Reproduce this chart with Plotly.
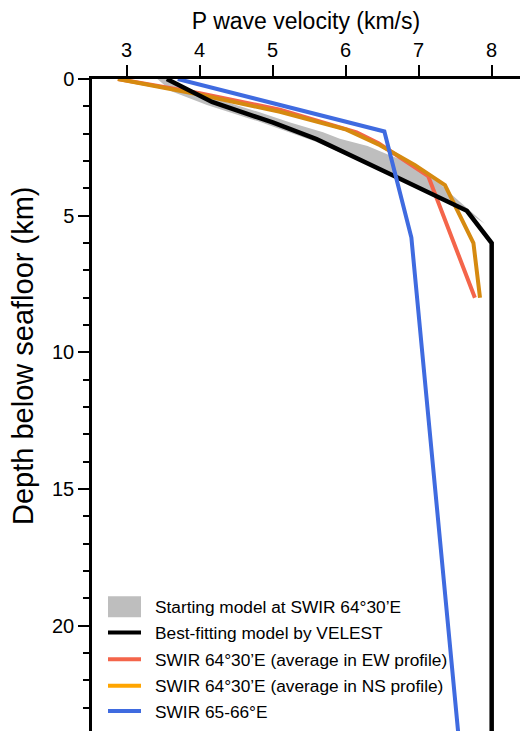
import plotly.graph_objects as go

# P-wave velocity (km/s) versus depth below seafloor (km)
start_fast_v = [3.55, 4.10, 4.80, 5.24, 5.69, 5.92, 6.30, 6.61, 6.93, 7.20, 7.47, 7.91]
start_fast_d = [0.00, 0.62, 1.20, 1.59, 1.95, 2.19, 2.45, 2.80, 3.11, 3.60, 4.27, 5.30]
start_slow_v = [7.91, 7.66, 6.65, 5.60, 4.80, 4.10, 3.88, 3.62, 3.42]
start_slow_d = [5.30, 4.85, 3.55, 2.30, 1.55, 0.95, 0.72, 0.46, 0.00]

velest_v = [3.55, 4.17, 5.00, 5.60, 6.65, 7.66, 8.00, 8.00]
velest_d = [0.00, 0.84, 1.59, 2.20, 3.53, 4.82, 6.00, 30.0]

ew_v = [2.88, 4.00, 5.10, 6.15, 6.45, 7.13, 7.77]
ew_d = [0.00, 0.52, 1.12, 1.95, 2.35, 3.55, 8.00]

ns_v = [2.88, 3.96, 5.10, 6.01, 6.47, 6.95, 7.36, 7.75, 7.84]
ns_d = [0.00, 0.55, 1.20, 1.85, 2.42, 3.15, 3.88, 6.00, 8.00]

east_v = [3.70, 6.53, 6.90, 7.58]
east_d = [0.00, 1.92, 5.80, 25.0]

depth_ticks = [0, 5, 10, 15, 20]
velocity_ticks = [3, 4, 5, 6, 7, 8]

names = [
    "Starting model at SWIR 64°30’E",
    "Best-fitting model by VELEST",
    "SWIR 64°30’E (average in EW profile)",
    "SWIR 64°30’E (average in NS profile)",
    "SWIR 65-66°E",
]

FONT = "Liberation Sans, Arial, Helvetica, sans-serif"
GRAY = "#BEBEBE"
RED = "#F4654A"
ORANGE_LINE = "#D68A10"
ORANGE_KEY = "#FFA500"
BLUE = "#3F6BE0"
LW = 4

# figure / plotting-area geometry in pixels
W, H = 520, 731
ML, MT = 92, 79
PW, PH = W - ML, H - MT


def px(x):
    return (x - ML) / PW


def py(y):
    return 1 - (y - MT) / PH


fig = go.Figure()

fig.add_trace(go.Scatter(
    x=start_fast_v + start_slow_v, y=start_fast_d + start_slow_d,
    fill="toself", fillcolor=GRAY, mode="lines", line=dict(width=0, color=GRAY),
    name=names[0], hoverinfo="skip",
))
fig.add_trace(go.Scatter(
    x=ew_v, y=ew_d, mode="lines", line=dict(color=RED, width=LW), name=names[2],
))
fig.add_trace(go.Scatter(
    x=ns_v, y=ns_d, mode="lines", line=dict(color=ORANGE_LINE, width=LW), name=names[3],
))
fig.add_trace(go.Scatter(
    x=velest_v, y=velest_d, mode="lines", line=dict(color="black", width=LW + 0.5),
    name=names[1],
))
fig.add_trace(go.Scatter(
    x=east_v, y=east_d, mode="lines", line=dict(color=BLUE, width=LW), name=names[4],
))

# legend key: swatch + label per row
key_rows = [606.7, 632.5, 659.3, 685.8, 711.0]
key_styles = [("box", GRAY), ("line", "black"), ("line", RED), ("line", ORANGE_KEY), ("line", BLUE)]
key_x0, key_x1, key_text = 108, 141, 152.5
shapes, annotations = [], []
for row, name, (kind, color) in zip(key_rows, names, key_styles):
    if kind == "box":
        shapes.append(dict(type="rect", xref="paper", yref="paper",
                           x0=px(key_x0), x1=px(key_x1), y0=py(row + 10.5), y1=py(row - 10.5),
                           fillcolor=color, line=dict(width=0)))
    else:
        shapes.append(dict(type="line", xref="paper", yref="paper",
                           x0=px(key_x0), x1=px(key_x1), y0=py(row), y1=py(row),
                           line=dict(color=color, width=4)))
    annotations.append(dict(text=name, xref="paper", yref="paper", x=px(key_text), y=py(row + 0.5),
                            xanchor="left", yanchor="middle", showarrow=False,
                            font=dict(family=FONT, size=17.3, color="black")))

annotations.append(dict(text="Depth below seafloor (km)", textangle=-90,
                        xref="paper", yref="paper", x=px(23), y=py(356),
                        xanchor="center", yanchor="middle", showarrow=False,
                        font=dict(family=FONT, size=29, color="black")))

fig.update_layout(
    width=W, height=H,
    margin=dict(l=ML, r=0, t=MT, b=0, pad=0),
    paper_bgcolor="white", plot_bgcolor="white",
    font=dict(family=FONT, color="black", size=20),
    showlegend=False,
    shapes=shapes, annotations=annotations,
    xaxis=dict(
        side="top", range=[2.525, 8.388],
        tickvals=velocity_ticks, ticktext=[str(v) for v in velocity_ticks],
        ticks="outside", ticklen=11, tickwidth=2, tickcolor="black",
        showline=True, linewidth=2.5, linecolor="black",
        showgrid=False, zeroline=False,
        tickfont=dict(size=20),
        title=dict(text="P wave velocity (km/s)", font=dict(size=23), standoff=4),
    ),
    yaxis=dict(
        range=[23.85, 0],
        tickvals=depth_ticks, ticktext=[str(d) for d in depth_ticks],
        ticks="outside", ticklen=11, tickwidth=2, tickcolor="black",
        minor=dict(dtick=1, ticks="outside", ticklen=6, tickwidth=2, tickcolor="black", showgrid=False),
        showline=True, linewidth=2.5, linecolor="black",
        showgrid=False, zeroline=False,
        tickfont=dict(size=20),
    ),
)

fig.write_html("out.html")
